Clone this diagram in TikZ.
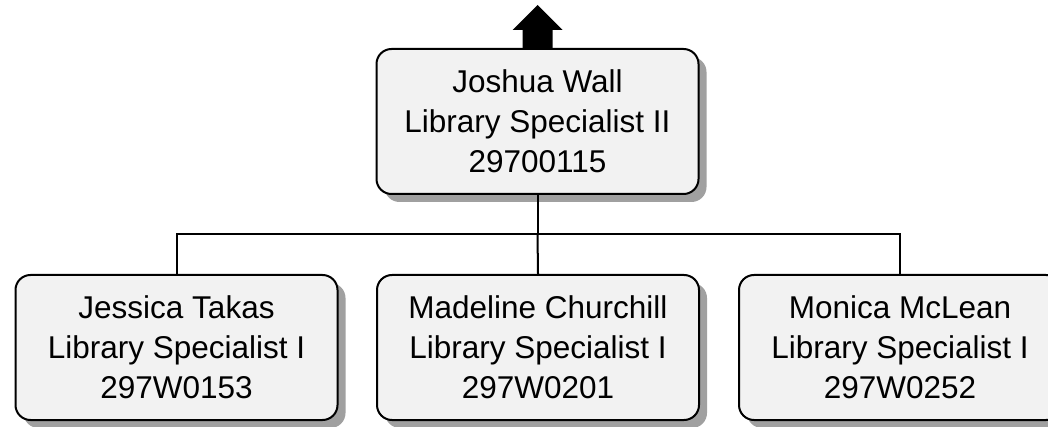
\documentclass[tikz,border=0pt]{standalone}
\usepackage{fontspec}
\setmainfont{Liberation Sans}
\usetikzlibrary{shadows}
\definecolor{boxfill}{HTML}{F2F2F2}
\definecolor{shadowgray}{HTML}{A0A0A0}
\begin{document}
\begin{tikzpicture}[x=1pt,y=-1pt,
  person/.style={draw=black, line width=2pt, fill=boxfill, rounded corners=15pt,
    minimum width=322pt, minimum height=145pt, align=center, inner sep=0pt,
    font=\fontsize{31.5}{40}\selectfont,
    drop shadow={shadow xshift=8pt, shadow yshift=-8pt, fill=shadowgray, opacity=1}},
  link/.style={draw=black, line width=2pt}]
\useasboundingbox[fill=white] (0,0) rectangle (1048,427);
\node[person] (top) at (537.5,121.5) {Joshua Wall\\Library Specialist II\\29700115};
\node[person] (a) at (176.5,347.5) {Jessica Takas\\Library Specialist I\\297W0153};
\node[person] (b) at (538,347.5) {Madeline Churchill\\Library Specialist I\\297W0201};
\node[person] (c) at (900,347.5) {Monica McLean\\Library Specialist I\\297W0252};
\coordinate (bus) at (537.5,234);
\draw[link] (top.south) -- (bus);
\draw[link] (a.north) |- (bus) -| (c.north);
\draw[link] (bus) -- (b.north);
\fill[black] ([xshift=-15pt]top.north) -- ++(0,-18) -- ++(-10,0) -- ([yshift=43pt]top.north)
  -- ([xshift=25pt,yshift=18pt]top.north) -- ++(-10,0) -- ([xshift=15pt]top.north) -- cycle;
\end{tikzpicture}
\end{document}
